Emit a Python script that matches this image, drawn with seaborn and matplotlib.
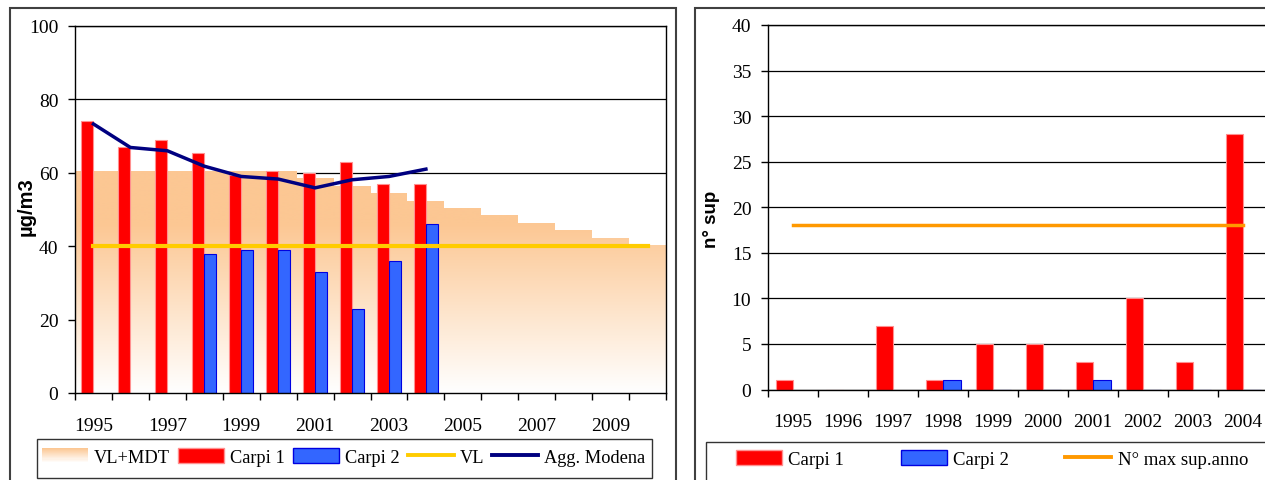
import numpy as np
import pandas as pd
import seaborn as sns
import matplotlib.pyplot as plt
from matplotlib.colors import LinearSegmentedColormap
from matplotlib.patches import Rectangle, Patch
from matplotlib.lines import Line2D
from matplotlib.path import Path
from matplotlib.legend_handler import HandlerBase

# ---- data ----
years_all = [str(y) for y in range(1995, 2011)]
years_obs = [str(y) for y in range(1995, 2005)]

vl_mdt = [60.5, 60.5, 60.5, 60.5, 60.5, 60.5, 58.5, 56.5, 54.5, 52.3,
          50.4, 48.5, 46.3, 44.4, 42.2, 40.3]
carpi1_avg = [74, 67, 69, 65.5, 59.5, 60.5, 60, 63, 57, 57]
carpi2_avg = [np.nan, np.nan, np.nan, 38, 39, 39, 33, 23, 36, 46]
agg_modena = [73.3, 66.9, 66, 61.8, 59, 58.3, 55.9, 58.1, 59, 61]
vl = [40] * 16

carpi1_sup = [1, 0, 7, 1, 5, 5, 3, 10, 3, 28]
carpi2_sup = [np.nan, np.nan, np.nan, 1, 0, 0, 1, 0, 0, 0]
max_sup = [18] * 10

stations = ["Carpi 1", "Carpi 2"]
station_colors = {"Carpi 1": "#FF0000", "Carpi 2": "#3366FF"}
station_edges = {"Carpi 1": "#FF9090", "Carpi 2": "#0000E0"}
area_cmap = LinearSegmentedColormap.from_list("vlmdt", ["#FFFFFF", "#FCC793"])

plt.rcParams["font.family"] = ["Liberation Serif", "DejaVu Serif"]
plt.rcParams["font.size"] = 14

W, H = 1265, 481


def fx(px):
    return px / W


def fy(py):
    return 1 - py / H


class GradientHandler(HandlerBase):
    """Legend key drawn as a vertical orange -> white gradient."""

    def create_artists(self, legend, orig_handle, xdescent, ydescent,
                       width, height, fontsize, trans):
        n = 14
        arts = []
        for i in range(n):
            c = area_cmap(1 - i / (n - 1))
            r = Rectangle((-xdescent, -ydescent + height * (1 - (i + 1) / n)),
                          width, height / n + 0.3, fc=c, ec="none",
                          transform=trans)
            arts.append(r)
        return arts


def style_axis(ax):
    for s in ax.spines.values():
        s.set_color("black")
        s.set_linewidth(1.0)
    ax.set_axisbelow(True)
    ax.yaxis.grid(True, color="black", linewidth=0.9)
    ax.xaxis.grid(False)
    ax.tick_params(axis="y", length=5, width=1, pad=7, labelsize=14)
    ax.tick_params(axis="x", which="major", length=5, width=1, labelsize=14)
    ax.set_xlabel("")


fig = plt.figure(figsize=(12.65, 4.81), dpi=100)
ax1 = fig.add_axes([fx(75), fy(394), fx(666) - fx(75), fy(27) - fy(394)])
ax2 = fig.add_axes([fx(768), fy(390.5), fx(1268) - fx(768), fy(26) - fy(390.5)])

# ---- left chart: annual mean ----
area_df = pd.DataFrame({"year": years_all, "value": vl_mdt})
sns.barplot(data=area_df, x="year", y="value", order=years_all, width=1.0,
            color="white", errorbar=None, ax=ax1)
area_bars = list(ax1.containers[0])
paths = [b.get_path().transformed(b.get_patch_transform()) for b in area_bars]
clip = Path.make_compound_path(*paths)
x0 = min(b.get_x() for b in area_bars)
x1 = max(b.get_x() + b.get_width() for b in area_bars)
top = max(b.get_height() for b in area_bars)
for b in area_bars:
    b.set_visible(False)
yy = np.linspace(0, top, 400)[:, None]
shade = np.clip(yy / 46, 0, 1) ** 1.0
im = ax1.imshow(shade, extent=(x0, x1, 0, top), origin="lower", aspect="auto",
                cmap=area_cmap, vmin=0, vmax=1, zorder=0.8,
                interpolation="bilinear")
im.set_clip_path(clip, ax1.transData)

avg_df = pd.DataFrame({
    "year": years_obs * 2,
    "station": ["Carpi 1"] * 10 + ["Carpi 2"] * 10,
    "value": carpi1_avg + carpi2_avg,
})
sns.barplot(data=avg_df, x="year", y="value", hue="station", order=years_all,
            hue_order=stations, palette=station_colors, width=0.65,
            saturation=1, errorbar=None, legend=False, ax=ax1, zorder=2)
for cont, st in zip(ax1.containers[1:3], stations):
    for b in cont:
        b.set_edgecolor(station_edges[st])
        b.set_linewidth(0.8)

sns.pointplot(x=years_all, y=vl, order=years_all, color="#FFCC00",
              markers="", linestyles="-", linewidth=3.0, errorbar=None,
              ax=ax1, zorder=3)
sns.pointplot(x=years_obs, y=agg_modena, order=years_all, color="#000080",
              markers="", linestyles="-", linewidth=2.5, errorbar=None,
              ax=ax1, zorder=4)

style_axis(ax1)
ax1.set_xlim(-0.5, 15.5)
ax1.set_ylim(0, 100)
ax1.set_yticks(range(0, 101, 20))
ax1.set_xticks(np.arange(-0.5, 16, 1))
ax1.set_xticklabels([])
ax1.set_xticks(np.arange(0, 16, 2), minor=True)
ax1.set_xticklabels(years_all[::2], minor=True)
ax1.tick_params(axis="x", which="minor", length=0, pad=17, labelsize=14)
ax1.set_ylabel("µg/m3", fontfamily="Liberation Sans", fontweight="bold",
               fontsize=14.5)
ax1.yaxis.set_label_coords(-0.067, 0.51)

# ---- right chart: number of exceedances ----
sup_df = pd.DataFrame({
    "year": years_obs * 2,
    "station": ["Carpi 1"] * 10 + ["Carpi 2"] * 10,
    "value": carpi1_sup + carpi2_sup,
})
sns.barplot(data=sup_df, x="year", y="value", hue="station", order=years_obs,
            hue_order=stations, palette=station_colors, width=0.7,
            saturation=1, errorbar=None, legend=False, ax=ax2, zorder=2)
for cont, st in zip(ax2.containers[:2], stations):
    for b in cont:
        b.set_edgecolor(station_edges[st])
        b.set_linewidth(0.8)
sns.pointplot(x=years_obs, y=max_sup, order=years_obs, color="#FF9900",
              markers="", linestyles="-", linewidth=2.5, errorbar=None,
              ax=ax2, zorder=3)

style_axis(ax2)
ax2.set_xlim(-0.5, 9.5)
ax2.set_ylim(0, 40)
ax2.set_yticks(range(0, 41, 5))
ax2.set_xticks(np.arange(-0.5, 10, 1))
ax2.set_xticklabels([])
ax2.set_xticks(np.arange(0, 10, 1), minor=True)
ax2.set_xticklabels(years_obs, minor=True)
ax2.tick_params(axis="x", which="minor", length=0, pad=17, labelsize=14)
ax2.set_ylabel("n° sup", fontfamily="Liberation Sans", fontweight="bold",
               fontsize=13.5)
ax2.yaxis.set_label_coords(-0.097, 0.47)

# ---- legends (boxes drawn separately, like the original layout) ----
grad_key = Patch(facecolor="#FCC793")
h1 = [grad_key,
      Patch(facecolor="#FF0000", edgecolor="#FF9090"),
      Patch(facecolor="#3366FF", edgecolor="#0000E0"),
      Line2D([], [], color="#FFCC00", lw=2.8),
      Line2D([], [], color="#000080", lw=2.8)]
l1 = ["VL+MDT", "Carpi 1", "Carpi 2", "VL", "Agg. Modena"]
fig.legend(h1, l1, loc="center left", bbox_to_anchor=(fx(42), fy(458)),
           ncol=5, frameon=False, handlelength=2.5, handleheight=0.9,
           handletextpad=0.33, columnspacing=0.45, borderpad=0,
           borderaxespad=0, fontsize=13.2,
           handler_map={grad_key: GradientHandler()})
fig.add_artist(Rectangle((fx(37), fy(479)), fx(652) - fx(37), fy(440) - fy(479),
                         transform=fig.transFigure, fill=False,
                         ec="#333333", lw=1.0))

h2 = [Patch(facecolor="#FF0000", edgecolor="#FF9090"),
      Patch(facecolor="#3366FF", edgecolor="#0000E0"),
      Line2D([], [], color="#FF9900", lw=2.8)]
l2 = ["Carpi 1", "Carpi 2", "N° max sup.anno"]
fig.legend(h2, l2, loc="center left", bbox_to_anchor=(fx(736), fy(460)),
           ncol=3, frameon=False, handlelength=2.45, handleheight=0.9,
           handletextpad=0.35, columnspacing=3.0, borderpad=0,
           borderaxespad=0, fontsize=13.5)
fig.add_artist(Rectangle((fx(706), fy(520)), fx(1300) - fx(706),
                         fy(443) - fy(520), transform=fig.transFigure,
                         fill=False, ec="#333333", lw=1.0))

# ---- outer panel frames ----
fig.add_artist(Rectangle((fx(10), fy(520)), fx(676) - fx(10), fy(9) - fy(520),
                         transform=fig.transFigure, fill=False,
                         ec="#404040", lw=1.5))
fig.add_artist(Rectangle((fx(695), fy(520)), fx(1300) - fx(695),
                         fy(9) - fy(520), transform=fig.transFigure,
                         fill=False, ec="#404040", lw=1.5))

fig.savefig("out.png", dpi=100)
